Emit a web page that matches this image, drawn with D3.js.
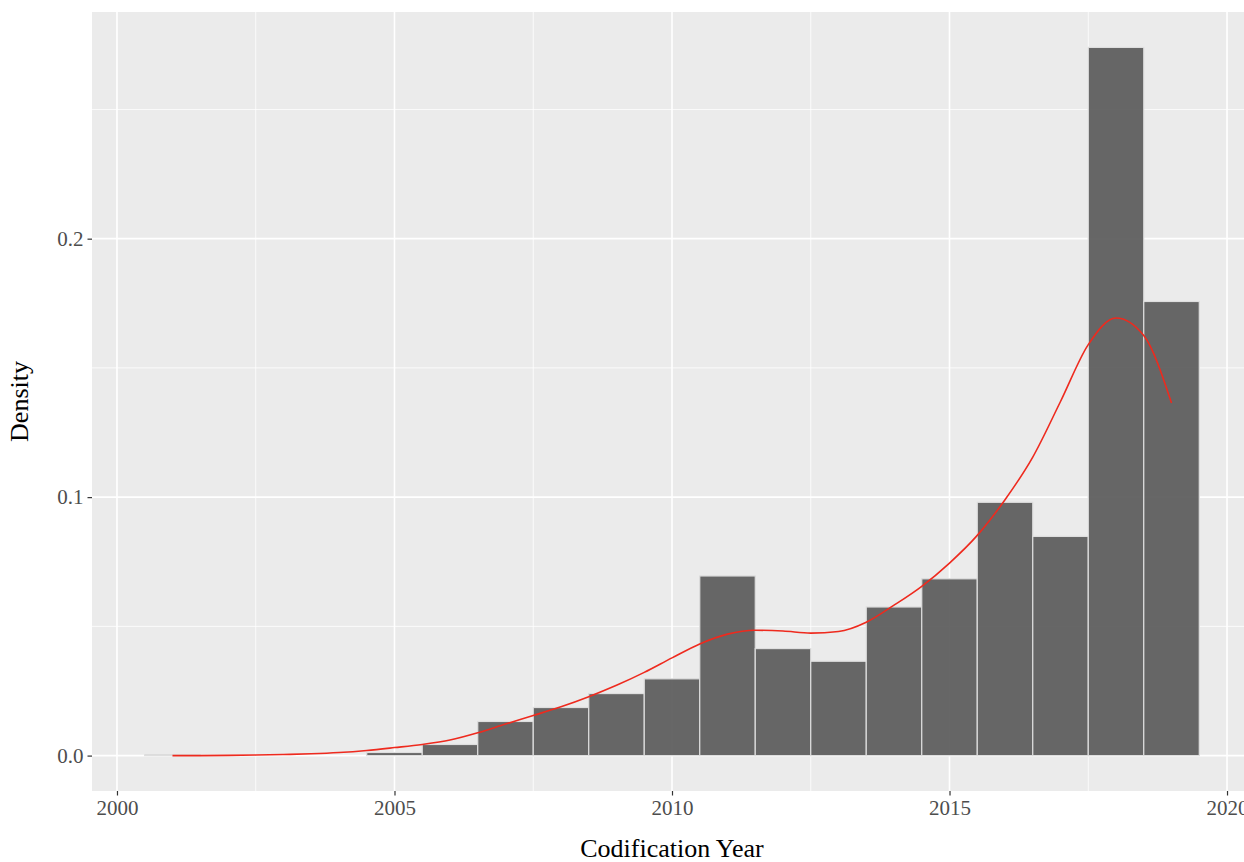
<!DOCTYPE html>
<html>
<head>
<meta charset="utf-8">
<script src="https://cdn.jsdelivr.net/npm/d3@7"></script>
<style>
  html, body { margin: 0; padding: 0; background: #ffffff; }
  svg { display: block; }
</style>
</head>
<body>
<svg id="chart" width="1244" height="862"></svg>
<script>
// Histogram bins (one per codification year), density scale
const binYears = [2001, 2002, 2003, 2004, 2005, 2006, 2007, 2008, 2009, 2010,
                  2011, 2012, 2013, 2014, 2015, 2016, 2017, 2018, 2019];
const binDensity = [0.0003, 0, 0, 0, 0.0012, 0.0043, 0.0132, 0.0186, 0.0240, 0.0297,
                    0.0695, 0.0414, 0.0365, 0.0575, 0.0684, 0.0980, 0.0848, 0.2740, 0.1757];

// Kernel density estimate, sampled every half year
const kdeYears = [2001, 2001.5, 2002, 2002.5, 2003, 2003.5, 2004, 2004.5, 2005, 2005.5,
                  2006, 2006.5, 2007, 2007.5, 2008, 2008.5, 2009, 2009.5, 2010, 2010.5,
                  2011, 2011.5, 2012, 2012.5, 2013, 2013.5, 2014, 2014.5, 2015, 2015.5,
                  2016, 2016.5, 2017, 2017.5, 2018, 2018.5, 2019];
const kdeDensity = [0.0000, 0.0000, 0.0001, 0.0002, 0.0004, 0.0007, 0.0012, 0.0020, 0.0031, 0.0043,
                    0.0060, 0.0088, 0.0122, 0.0155, 0.0189, 0.0228, 0.0272, 0.0322, 0.0378, 0.0432,
                    0.0470, 0.0485, 0.0482, 0.0474, 0.0480, 0.0516, 0.0582, 0.0655, 0.0745, 0.0852,
                    0.0990, 0.1155, 0.1370, 0.1590, 0.1693, 0.1625, 0.1364];

// Axis ticks
const xMajor = [2000, 2005, 2010, 2015, 2020];
const xMinor = [2002.5, 2007.5, 2012.5, 2017.5];
const yMajor = [0.0, 0.1, 0.2];
const yMinor = [0.05, 0.15, 0.25];
const yTickLabels = ["0.0", "0.1", "0.2"];

const xTitle = "Codification Year";
const yTitle = "Density";

const svg = d3.select("#chart");
const panel = { left: 92, right: 1252, top: 12, bottom: 791 };

// ggplot-style 5% expansion around the data range
const xLo = d3.min(binYears) - 0.5, xHi = d3.max(binYears) + 0.5;
const xPad = (xHi - xLo) * 0.05;
const x = d3.scaleLinear().domain([xLo - xPad, xHi + xPad]).range([panel.left, panel.right]);

const yHi = d3.max(binDensity);
const yPad = yHi * 0.05;
const y = d3.scaleLinear().domain([-yPad, yHi + yPad]).range([panel.bottom, panel.top]);

// Panel background
svg.append("rect")
  .attr("x", panel.left).attr("y", panel.top)
  .attr("width", panel.right - panel.left).attr("height", panel.bottom - panel.top)
  .attr("fill", "#EBEBEB");

// Grid lines
const grid = svg.append("g");
grid.selectAll(".xminor").data(xMinor).join("line")
  .attr("x1", d => x(d)).attr("x2", d => x(d))
  .attr("y1", panel.top).attr("y2", panel.bottom)
  .attr("stroke", "#ffffff").attr("stroke-width", 0.8);
grid.selectAll(".yminor").data(yMinor).join("line")
  .attr("y1", d => y(d)).attr("y2", d => y(d))
  .attr("x1", panel.left).attr("x2", panel.right)
  .attr("stroke", "#ffffff").attr("stroke-width", 0.8);
grid.selectAll(".xmajor").data(xMajor).join("line")
  .attr("x1", d => x(d)).attr("x2", d => x(d))
  .attr("y1", panel.top).attr("y2", panel.bottom)
  .attr("stroke", "#ffffff").attr("stroke-width", 1.6);
grid.selectAll(".ymajor").data(yMajor).join("line")
  .attr("y1", d => y(d)).attr("y2", d => y(d))
  .attr("x1", panel.left).attr("x2", panel.right)
  .attr("stroke", "#ffffff").attr("stroke-width", 1.6);

// Histogram bars
svg.append("g").selectAll("rect").data(binYears.map((yr, i) => ({ yr, v: binDensity[i] })))
  .join("rect")
  .attr("x", d => x(d.yr - 0.5))
  .attr("width", d => x(d.yr + 0.5) - x(d.yr - 0.5))
  .attr("y", d => y(d.v))
  .attr("height", d => y(0) - y(d.v))
  .attr("fill", "#5a5a5a")
  .attr("fill-opacity", 0.92)
  .attr("stroke", "#dedede")
  .attr("stroke-width", 1.2);

// Density curve
const line = d3.line()
  .x(d => x(d[0]))
  .y(d => y(d[1]))
  .curve(d3.curveMonotoneX);
svg.append("path")
  .datum(kdeYears.map((yr, i) => [yr, kdeDensity[i]]))
  .attr("d", line)
  .attr("fill", "none")
  .attr("stroke", "#ee2a1e")
  .attr("stroke-width", 1.6);

// X axis ticks and labels
const xAxis = svg.append("g").attr("transform", `translate(0,${panel.bottom})`)
  .call(d3.axisBottom(x).tickValues(xMajor).tickFormat(d3.format("d")).tickSize(4.5).tickPadding(5));
xAxis.select(".domain").remove();
xAxis.selectAll(".tick line").attr("stroke", "#333333").attr("stroke-width", 1.2);
xAxis.selectAll(".tick text")
  .attr("fill", "#4D4D4D")
  .style("font-family", "'Liberation Serif', 'Times New Roman', serif")
  .style("font-size", "21px");

// Y axis ticks and labels
const yAxis = svg.append("g").attr("transform", `translate(${panel.left},0)`)
  .call(d3.axisLeft(y).tickValues(yMajor).tickFormat((d, i) => yTickLabels[i]).tickSize(4.5).tickPadding(4));
yAxis.select(".domain").remove();
yAxis.selectAll(".tick line").attr("stroke", "#333333").attr("stroke-width", 1.2);
yAxis.selectAll(".tick text")
  .attr("fill", "#4D4D4D")
  .style("font-family", "'Liberation Serif', 'Times New Roman', serif")
  .style("font-size", "21px");

// Axis titles
svg.append("text")
  .attr("x", (panel.left + panel.right) / 2)
  .attr("y", 857)
  .attr("text-anchor", "middle")
  .attr("fill", "#000000")
  .style("font-family", "'Liberation Serif', 'Times New Roman', serif")
  .style("font-size", "26px")
  .text(xTitle);

svg.append("text")
  .attr("transform", `translate(28,${(panel.top + panel.bottom) / 2}) rotate(-90)`)
  .attr("text-anchor", "middle")
  .attr("fill", "#000000")
  .style("font-family", "'Liberation Serif', 'Times New Roman', serif")
  .style("font-size", "26px")
  .text(yTitle);
</script>
</body>
</html>
